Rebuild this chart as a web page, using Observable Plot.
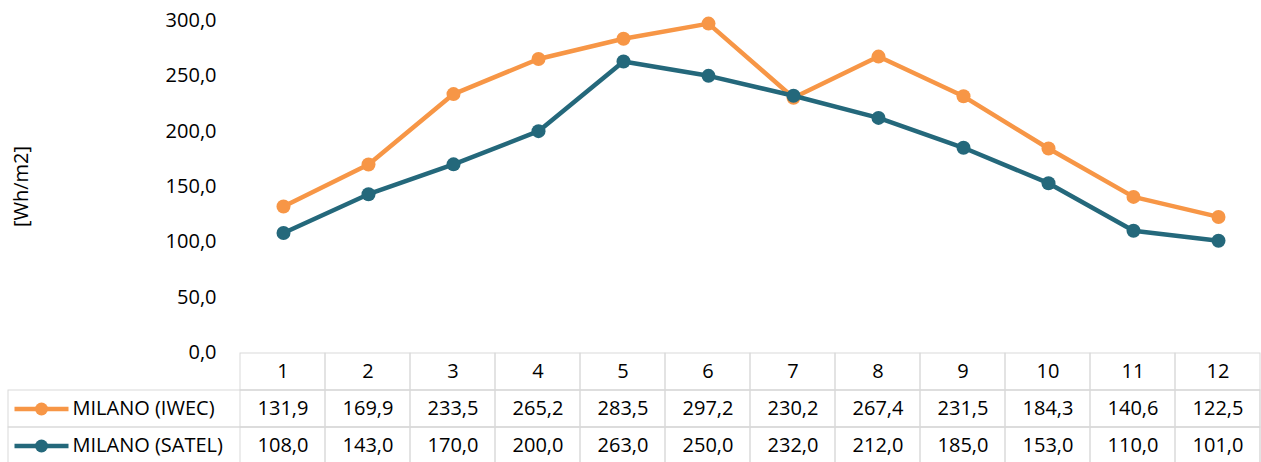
<!DOCTYPE html>
<html><head><meta charset="utf-8">
<script src="https://cdn.jsdelivr.net/npm/d3@7"></script>
<script src="https://cdn.jsdelivr.net/npm/@observablehq/plot@0.6"></script>
<style>
body{margin:0;background:#fff;}
#wrap{position:relative;width:1261px;height:462px;overflow:hidden;background:#fff;}
#wrap svg{position:absolute;left:0;}
</style></head><body><div id="wrap"></div>
<script>
const months = [1,2,3,4,5,6,7,8,9,10,11,12];
const seriesNames = ["MILANO (IWEC)", "MILANO (SATEL)"];
const iwec = [131.9,169.9,233.5,265.2,283.5,297.2,230.2,267.4,231.5,184.3,140.6,122.5];
const satel = [108.0,143.0,170.0,200.0,263.0,250.0,232.0,212.0,185.0,153.0,110.0,101.0];
const colors = ["#F79646", "#24687B"];
const yTicks = [0,50,100,150,200,250,300];
const yLabel = "[Wh/m2]";

const fmt = v => v.toFixed(1).replace(".", ",");
const seriesValues = [iwec, satel];
const data = seriesNames.flatMap((s, k) => months.map((m, i) => ({month: m, series: s, value: seriesValues[k][i]})));
const font = {fontFamily: "'Open Sans', sans-serif", fontSize: "20px", color: "#000", background: "transparent"};
const grid = "#D9D9D9";

const seriesMarks = seriesNames.flatMap(s => {
  const d = data.filter(e => e.series === s);
  return [
    Plot.line(d, {x: "month", y: "value", stroke: "series", strokeWidth: 4.5}),
    Plot.dot(d, {x: "month", y: "value", fill: "series", r: 7})
  ];
});

const chart = Plot.plot({
  width: 1261, height: 462, marginLeft: 240, marginRight: 1, marginTop: 20, marginBottom: 110,
  style: font,
  x: {type: "point", domain: months, padding: 0.5, axis: null},
  y: {domain: [0, 300], axis: null},
  color: {domain: seriesNames, range: colors},
  marks: [
    Plot.axisY(yTicks, {tickFormat: fmt, tickSize: 0, tickPadding: 24, label: null}),
    Plot.text([yLabel], {frameAnchor: "left", dx: -219, rotate: -90, textAnchor: "middle", text: d => d}),
    ...seriesMarks
  ]
});
chart.style.top = "0px";

const legendLine = {draw(ctx) { ctx.moveTo(-27, 0); ctx.lineTo(27, 0); }};
const rows = ["hdr", ...seriesNames];
const cells = rows.flatMap(r => months.map(m => ({r, m})));

const table = Plot.plot({
  width: 1261, height: 122, marginLeft: 8, marginRight: 1, marginTop: 0, marginBottom: 0,
  style: font,
  x: {type: "band", domain: months, range: [240, 1260], padding: 0, axis: null},
  y: {type: "band", domain: rows, range: [12, 125], padding: 0, axis: null},
  color: {domain: seriesNames, range: colors},
  marks: [
    Plot.cell(seriesNames, {y: d => d, stroke: grid, fill: "none", inset: 0}),
    Plot.cell(cells, {x: "m", y: "r", stroke: grid, fill: "none", inset: 0}),
    Plot.text(months, {x: d => d, y: () => "hdr", text: d => String(d)}),
    Plot.text(data, {x: "month", y: "series", text: d => fmt(d.value)}),
    Plot.dot(seriesNames, {y: d => d, frameAnchor: "left", dx: 33, symbol: legendLine, r: 1, stroke: d => d, fill: "none", strokeWidth: 4.5}),
    Plot.dot(seriesNames, {y: d => d, frameAnchor: "left", dx: 33, fill: d => d, r: 6.5}),
    Plot.text(seriesNames, {y: d => d, frameAnchor: "left", dx: 64, textAnchor: "start", text: d => d})
  ]
});
table.style.top = "340px";

const wrap = document.getElementById("wrap");
wrap.append(chart, table);
</script></body></html>
